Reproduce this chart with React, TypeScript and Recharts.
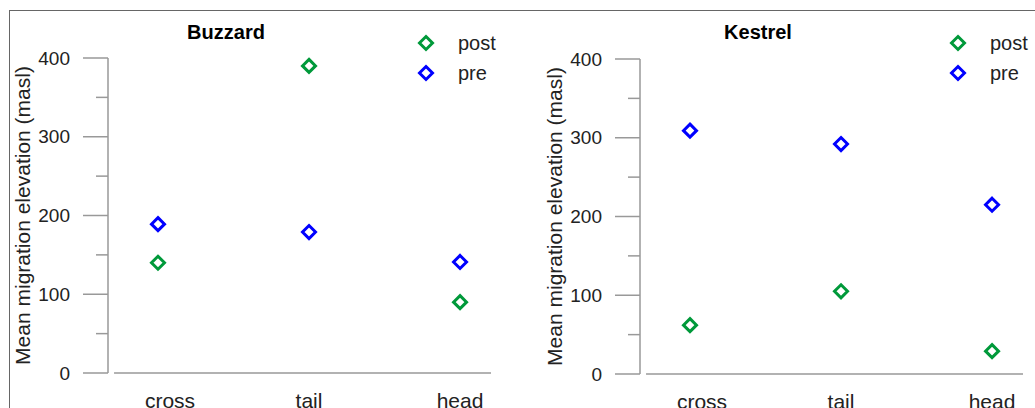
import React from 'react';
import { ScatterChart, Scatter, XAxis, YAxis, Legend, ReferenceLine } from 'recharts';

const categories = ['cross', 'tail', 'head'];
const yTicks = [0, 50, 100, 150, 200, 250, 300, 350, 400];

const buzzardPost = [140, 390, 90];
const buzzardPre = [189, 179, 141];
const kestrelPost = [62, 105, 29];
const kestrelPre = [309, 292, 215];

const GREEN = '#00993a';
const BLUE = '#0000ff';
const AXIS = '#999999';
const TEXT = '#222222';
const FONT = 'Arial, "Liberation Sans", Helvetica, sans-serif';

const toPoints = (values: number[]) => values.map((v, i) => ({ x: i + 1, y: v, cat: categories[i] }));

const Diamond = (props: any) => {
  const { cx, cy, fill } = props;
  const r = 6.5;
  return (
    <polygon
      points={`${cx},${cy - r} ${cx + r},${cy} ${cx},${cy + r} ${cx - r},${cy}`}
      fill="none"
      stroke={fill}
      strokeWidth={3}
    />
  );
};

// major ticks get a label and a long line, minor ones a short line
const YTick = (props: any) => {
  const { x, y, payload } = props;
  const major = payload.value % 100 === 0;
  return (
    <g>
      <line x1={x + (major ? 13 : 26)} x2={x + 38} y1={y} y2={y} stroke={AXIS} strokeWidth={1.5} />
      {major && (
        <text x={x} y={y} dy="0.35em" textAnchor="end" fontSize={19} fill={TEXT} fontFamily={FONT}>
          {payload.value}
        </text>
      )}
    </g>
  );
};

// the source nudges the first category label a bit to the right
const XTick = (props: any) => {
  const { x, y, payload } = props;
  const shift = payload.value === 1 ? 12 : 0;
  return (
    <text x={x + shift} y={y} dy="0.71em" textAnchor="middle" fontSize={21} fill={TEXT} fontFamily={FONT}>
      {categories[payload.value - 1]}
    </text>
  );
};

const LegendBox = (props: any) => {
  const { payload } = props;
  return (
    <svg width={100} height={60} style={{ overflow: 'visible' }}>
      {(payload || []).map((item: any, i: number) => (
        <g key={item.value}>
          <polygon
            points={`10,${7 + i * 30 - 6.5} ${16.5},${7 + i * 30} 10,${7 + i * 30 + 6.5} ${3.5},${7 + i * 30}`}
            fill="none"
            stroke={item.color}
            strokeWidth={3}
          />
          <text x={42} y={7 + i * 30} dy="0.35em" fontSize={20} fill={TEXT} fontFamily={FONT}>
            {item.value}
          </text>
        </g>
      ))}
    </svg>
  );
};

interface PanelProps {
  title: string;
  post: number[];
  pre: number[];
  width: number;
  axisWidth: number;
  top: number;
}

const Panel: React.FC<PanelProps> = ({ title, post, pre, width, axisWidth, top }) => {
  const plotRight = width - 383 - axisWidth;
  return (
    <div style={{ position: 'relative', width, height: 408 }}>
      <div
        style={{
          position: 'absolute',
          top: 20,
          left: axisWidth + 78,
          width: 80,
          textAlign: 'center',
          fontFamily: FONT,
          fontWeight: 'bold',
          fontSize: 20,
          color: '#000',
          lineHeight: '24px',
        }}
      >
        {title}
      </div>
      <ScatterChart width={width} height={408} margin={{ top, right: plotRight, bottom: 0, left: 0 }}>
        <XAxis
          type="number"
          dataKey="x"
          domain={[0.669, 3.205]}
          ticks={[1, 2, 3]}
          axisLine={false}
          tickLine={false}
          tickSize={0}
          tickMargin={20}
          height={408 - top - 315}
          tick={<XTick />}
        />
        <YAxis
          type="number"
          dataKey="y"
          domain={[0, 400]}
          ticks={yTicks}
          interval={0}
          width={axisWidth}
          tickSize={25}
          tickMargin={13}
          tickLine={false}
          axisLine={{ stroke: AXIS, strokeWidth: 1.5 }}
          tick={<YTick />}
          label={{
            content: (p: any) => {
              const vb = p.viewBox || {};
              const cx = axisWidth - 85;
              const cy = (vb.y || top) + (vb.height || 315) / 2;
              return (
                <text
                  x={cx}
                  y={cy}
                  transform={`rotate(-90, ${cx}, ${cy})`}
                  textAnchor="middle"
                  dy="0.35em"
                  fontSize={21}
                  fill={TEXT}
                  fontFamily={FONT}
                >
                  Mean migration elevation (masl)
                </text>
              );
            },
          }}
        />
        <ReferenceLine
          segment={[
            { x: 0.709, y: 0 },
            { x: 3.205, y: 0 },
          ]}
          stroke={AXIS}
          strokeWidth={1.5}
          ifOverflow="visible"
        />
        <Legend
          verticalAlign="middle"
          align="center"
          layout="horizontal"
          content={<LegendBox />}
          wrapperStyle={{ position: 'absolute', top: 36, left: axisWidth + 308, width: 100, height: 60 }}
        />
        <Scatter name="post" data={toPoints(post)} fill={GREEN} shape={<Diamond />} isAnimationActive={false} />
        <Scatter name="pre" data={toPoints(pre)} fill={BLUE} shape={<Diamond />} isAnimationActive={false} />
      </ScatterChart>
    </div>
  );
};

export default function App() {
  return (
    <div style={{ position: 'fixed', top: 0, left: 0, width: 1035, height: 408, background: '#fff', overflow: 'hidden' }}>
      <div
        style={{
          position: 'absolute',
          top: 10,
          left: 9,
          right: -5,
          bottom: -5,
          borderTop: '1.5px solid #666',
          borderLeft: '1.5px solid #666',
        }}
      />
      <div style={{ position: 'absolute', top: 0, left: 0 }}>
        <Panel title="Buzzard" post={buzzardPost} pre={buzzardPre} width={517} axisWidth={108} top={58} />
      </div>
      <div style={{ position: 'absolute', top: 0, left: 517 }}>
        <Panel title="Kestrel" post={kestrelPost} pre={kestrelPre} width={518} axisWidth={123} top={59} />
      </div>
    </div>
  );
}
